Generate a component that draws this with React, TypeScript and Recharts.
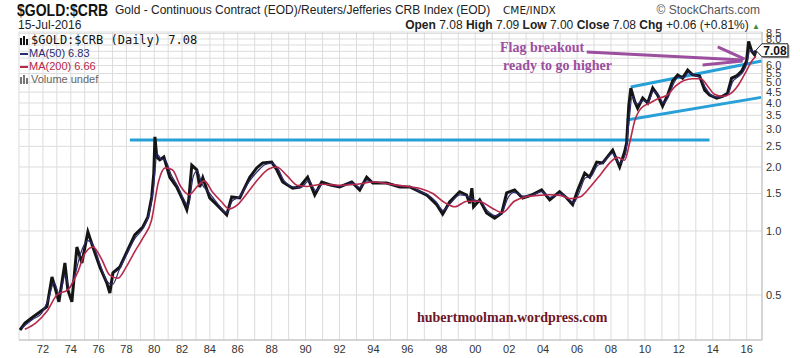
import React from "react";
import {
  LineChart,
  Line,
  XAxis,
  YAxis,
  CartesianGrid,
  ReferenceLine,
  ReferenceDot,
} from "recharts";

// trading records per year in the feed (early CRB history is thinner)
const eraStart = [1970, 1986];
const barsPerYear = [205, 250];

const priceYears = [
  1970.35, 1970.71, 1971.28, 1971.78, 1972.29, 1972.65, 1972.86, 1973.15, 1973.58, 1973.79,
  1974.08, 1974.44, 1974.8, 1975.23, 1975.59, 1976.09, 1976.59, 1976.81, 1977.03, 1977.53,
  1978.03, 1978.6, 1979.18, 1979.54, 1979.82, 1979.97, 1980.05, 1980.18, 1980.4, 1980.69,
  1981.12, 1981.62, 1982.05, 1982.34, 1982.48, 1982.7, 1983.06, 1983.27, 1983.49, 1983.99,
  1984.49, 1985.21, 1985.57, 1986.12, 1986.71, 1987.12, 1987.47, 1988.0, 1988.3, 1988.65,
  1989.24, 1989.65, 1990.12, 1990.54, 1990.95, 1991.42, 1992.01, 1992.72, 1993.19, 1993.6,
  1993.96, 1994.78, 1995.55, 1996.14, 1996.72, 1997.14, 1997.73, 1998.08, 1998.49, 1999.08,
  1999.49, 1999.67, 1999.8, 1999.9, 2000.26, 2000.67, 2001.14, 2001.56, 2001.85, 2002.32,
  2002.79, 2003.32, 2003.91, 2004.39, 2004.97, 2005.39, 2005.74, 2006.04, 2006.45, 2006.74,
  2007.16, 2007.51, 2008.1, 2008.51, 2008.8, 2008.92, 2009.05, 2009.17, 2009.39, 2009.57,
  2009.87, 2010.16, 2010.46, 2010.75, 2011.04, 2011.34, 2011.63, 2011.93, 2012.22, 2012.52,
  2012.81, 2013.22, 2013.52, 2013.81, 2014.23, 2014.58, 2014.87, 2015.11, 2015.4, 2015.7,
  2015.99, 2016.11, 2016.29, 2016.47, 2016.54,
];
const priceValues = [
  0.342, 0.369, 0.394, 0.416, 0.44, 0.608, 0.545, 0.464, 0.707, 0.528,
  0.464, 0.84, 0.707, 0.99, 0.84, 0.677, 0.57, 0.51, 0.635, 0.677,
  0.797, 0.958, 1.044, 1.16, 1.445, 1.87, 2.77, 2.23, 2.16, 2.23,
  1.79, 1.61, 1.4, 1.26, 1.4, 2.04, 1.94, 1.61, 1.78, 1.43,
  1.33, 1.19, 1.445, 1.43, 1.79, 1.98, 2.09, 2.11, 1.94, 1.7,
  1.59, 1.61, 1.79, 1.476, 1.7, 1.65, 1.61, 1.7, 1.56, 1.79,
  1.68, 1.68, 1.61, 1.61, 1.53, 1.476, 1.33, 1.2, 1.37, 1.53,
  1.476, 1.35, 1.59, 1.3, 1.4, 1.215, 1.15, 1.215, 1.51, 1.56,
  1.43, 1.476, 1.56, 1.4, 1.53, 1.43, 1.33, 1.56, 1.87, 1.79,
  2.11, 2.09, 2.4, 2.0, 2.35, 2.59, 3.9, 4.7, 4.08, 3.78,
  4.22, 4.0, 4.7, 4.36, 3.87, 4.36, 5.08, 5.42, 5.24, 5.71,
  5.42, 5.36, 4.6, 4.36, 4.22, 4.3, 4.45, 5.24, 5.36, 5.65,
  6.3, 7.8, 7.03, 6.73, 7.08,
];

const ma50Years = [
  1970.5, 1971.3, 1971.9, 1972.4, 1972.8, 1973.2, 1973.6, 1973.9, 1974.3, 1974.7,
  1975.2, 1975.6, 1976.1, 1976.6, 1977.0, 1977.5, 1978.0, 1978.6, 1979.2, 1979.6,
  1979.95, 1980.2, 1980.5, 1980.8, 1981.2, 1981.7, 1982.1, 1982.45, 1982.8, 1983.1,
  1983.4, 1984.0, 1984.5, 1985.2, 1985.6, 1986.1, 1986.7, 1987.2, 1987.6, 1988.0,
  1988.4, 1988.7, 1989.3, 1989.7, 1990.2, 1990.6, 1991.0, 1991.5, 1992.0, 1992.7,
  1993.2, 1993.6, 1994.0, 1994.8, 1995.6, 1996.2, 1996.7, 1997.2, 1997.7, 1998.1,
  1998.5, 1999.1, 1999.5, 1999.9, 2000.3, 2000.7, 2001.2, 2001.6, 2001.9, 2002.3,
  2002.8, 2003.3, 2003.9, 2004.4, 2005.0, 2005.4, 2005.8, 2006.1, 2006.5, 2006.8,
  2007.2, 2007.5, 2008.1, 2008.5, 2008.85, 2009.05, 2009.25, 2009.5, 2009.9, 2010.2,
  2010.5, 2010.8, 2011.1, 2011.4, 2011.7, 2012.0, 2012.3, 2012.55, 2012.85, 2013.25,
  2013.55, 2013.85, 2014.25, 2014.6, 2014.9, 2015.15, 2015.45, 2015.75, 2016.0, 2016.2,
  2016.4, 2016.54,
];
const ma50Values = [
  0.35, 0.385, 0.41, 0.48, 0.57, 0.5, 0.62, 0.54, 0.62, 0.78,
  0.9, 0.86, 0.7, 0.58, 0.56, 0.66, 0.77, 0.92, 1.03, 1.18,
  1.6, 2.3, 2.18, 2.15, 1.85, 1.62, 1.42, 1.32, 1.8, 1.92,
  1.68, 1.5, 1.36, 1.22, 1.38, 1.45, 1.72, 1.92, 2.05, 2.08,
  1.95, 1.74, 1.61, 1.6, 1.72, 1.55, 1.66, 1.65, 1.62, 1.68,
  1.6, 1.72, 1.7, 1.67, 1.62, 1.61, 1.54, 1.48, 1.37, 1.25,
  1.34, 1.48, 1.46, 1.4, 1.38, 1.25, 1.18, 1.23, 1.42, 1.52,
  1.46, 1.47, 1.53, 1.44, 1.5, 1.44, 1.36, 1.5, 1.78, 1.8,
  2.03, 2.08, 2.32, 2.08, 2.3, 3.2, 4.3, 3.95, 4.1, 4.05,
  4.55, 4.35, 4.0, 4.3, 4.95, 5.3, 5.25, 5.55, 5.42, 5.3,
  4.75, 4.4, 4.25, 4.28, 4.4, 5.0, 5.28, 5.55, 6.1, 7.1,
  6.95, 6.83,
];

const ma200Years = [
  1970.7, 1971.5, 1972.3, 1973.0, 1973.8, 1974.5, 1975.0, 1975.6, 1976.2, 1976.8,
  1977.4, 1978.0, 1978.6, 1979.2, 1979.8, 1980.3, 1980.8, 1981.3, 1981.9, 1982.5,
  1983.1, 1983.6, 1984.2, 1984.8, 1985.4, 1986.0, 1986.6, 1987.2, 1987.8, 1988.3,
  1988.9, 1989.5, 1990.1, 1991.0, 1992.0, 1993.0, 1994.0, 1995.0, 1996.0, 1996.8,
  1997.5, 1998.2, 1998.8, 1999.5, 2000.2, 2001.0, 2001.6, 2002.3, 2003.0, 2003.7,
  2004.4, 2005.0, 2005.6, 2006.2, 2006.8, 2007.4, 2008.0, 2008.4, 2008.8, 2009.1,
  2009.4, 2009.8, 2010.3, 2010.8, 2011.3, 2011.8, 2012.3, 2012.8, 2013.3, 2013.7,
  2014.1, 2014.6, 2015.0, 2015.5, 2016.0, 2016.3, 2016.54,
];
const ma200Values = [
  0.345, 0.37, 0.42, 0.5, 0.53, 0.64, 0.78, 0.84, 0.74, 0.62,
  0.6, 0.68, 0.8, 0.93, 1.12, 1.7, 1.98, 1.94, 1.62, 1.48,
  1.62, 1.72, 1.52, 1.38, 1.27, 1.33, 1.52, 1.75, 1.95, 2.0,
  1.82, 1.64, 1.62, 1.66, 1.64, 1.66, 1.7, 1.66, 1.62, 1.58,
  1.5, 1.36, 1.3, 1.38, 1.38, 1.28, 1.22, 1.38, 1.45, 1.47,
  1.48, 1.47, 1.42, 1.45, 1.62, 1.85, 2.12, 2.22, 2.15, 2.6,
  3.3, 3.8, 4.0, 4.2, 4.35, 4.8, 5.1, 5.2, 5.2, 4.8,
  4.4, 4.3, 4.4, 4.85, 5.7, 6.3, 6.66,
];

const yTicks = [0.5, 1.0, 1.5, 2.0, 2.5, 3.0, 3.5, 4.0, 4.5, 5.0, 5.5, 6.0, 6.5, 7.0, 7.5, 8.0, 8.5];
// labels hidden behind the last-close tag
const yTicksUnderTag = [6.5, 7.0, 7.5];
const tickYears = Array.from({ length: 46 }, (_, i) => 1971 + i);

// hand-drawn annotations: [startYear, startValue, endYear, endValue]
const resistanceLine = [1978.25, 2.68, 2013.81, 2.68];
const channelTop = [2009.16, 4.76, 2016.88, 6.3];
const channelBottom = [2008.92, 3.33, 2016.85, 4.25];
const arrowShaft = [2006.57, 6.95, 2015.76, 6.37];
const arrowHeadUpper = [2014.29, 7.34, 2015.88, 6.44];
const arrowHeadLower = [2013.4, 6.04, 2015.76, 6.3];

const lastClose = 7.08;

function barPos(year: number) {
  // cumulative record count, origin at 1986
  if (year < eraStart[1]) return (year - eraStart[1]) * barsPerYear[0];
  return (year - eraStart[1]) * barsPerYear[1];
}
function posYear(p: number) {
  return p < 0 ? eraStart[1] + p / barsPerYear[0] : eraStart[1] + p / barsPerYear[1];
}

const toRows = (years: number[], values: number[]) =>
  years.map((y, i) => ({ pos: barPos(y), value: values[i] }));

const priceRows = toRows(priceYears, priceValues);
const ma50Rows = toRows(ma50Years, ma50Values);
const ma200Rows = toRows(ma200Years, ma200Values);

const segment = (s: number[]) => [
  { x: barPos(s[0]), y: s[1] },
  { x: barPos(s[2]), y: s[3] },
];

const SANS = "Arial, 'Liberation Sans', sans-serif";
const SERIF = "'Liberation Serif', 'DejaVu Serif', serif";
const BLUE = "#27a0d8";
const PURPLE = "#9c4e9f";

function CloseTag(props: any) {
  const { cx, cy } = props;
  if (cx == null || cy == null) return null;
  const pts = [
    [cx, cy],
    [cx + 6, cy - 6.5],
    [cx + 32, cy - 6.5],
    [cx + 32, cy + 6.5],
    [cx + 6, cy + 6.5],
  ]
    .map((p) => p.join(","))
    .join(" ");
  return (
    <g>
      <polygon points={pts} transform="translate(1.5,1.5)" fill="#999" />
      <polygon points={pts} fill="#fff" stroke="#222" strokeWidth={1} />
      <text x={cx + 19} y={cy + 4.5} textAnchor="middle" fontSize={12} fontWeight="bold" fontFamily={SANS} fill="#111">
        {lastClose.toFixed(2)}
      </text>
    </g>
  );
}

function BarIcon({ color }: { color: string }) {
  return (
    <svg width={9} height={9} style={{ marginRight: 2, verticalAlign: "-1px" }}>
      <rect x={0} y={2} width={2} height={7} fill={color} />
      <rect x={3} y={0} width={2} height={9} fill={color} />
      <rect x={6} y={3} width={2} height={6} fill={color} />
    </svg>
  );
}

export default function App() {
  const xMin = barPos(1970.28);
  const xMax = barPos(2016.9);

  return (
    <div style={{ position: "absolute", left: 0, top: 0, width: 800, height: 358, background: "#fff", overflow: "hidden" }}>
      <div style={{ position: "absolute", left: 0, top: 0 }}>
        <LineChart width={800} height={358} margin={{ top: 32, right: 0, bottom: 0, left: 19 }}>
          <CartesianGrid stroke="#dcdcdc" strokeWidth={1} />
          <XAxis
            dataKey="pos"
            type="number"
            domain={[xMin, xMax]}
            allowDataOverflow
            ticks={tickYears.map(barPos)}
            interval={0}
            height={18}
            tickLine={false}
            tickSize={3}
            axisLine={{ stroke: "#bdbdbd" }}
            tick={{ fill: "#333", fontSize: 11, fontFamily: SANS }}
            tickFormatter={(v: number) => {
              const y = Math.round(posYear(v));
              return y % 2 === 0 ? String(y % 100).padStart(2, "0") : "";
            }}
          />
          <XAxis xAxisId="frame" orientation="top" type="number" domain={[0, 1]} height={0} tick={false} tickLine={false} axisLine={{ stroke: "#bdbdbd" }} />
          <YAxis
            orientation="right"
            scale="log"
            domain={[0.307, 8.63]}
            allowDataOverflow
            ticks={yTicks}
            interval={0}
            width={38}
            tickLine={false}
            tickSize={2}
            axisLine={{ stroke: "#bdbdbd" }}
            tick={{ fill: "#333", fontSize: 11, fontFamily: SANS }}
            tickFormatter={(v: number) => (yTicksUnderTag.includes(v) ? "" : v.toFixed(1))}
          />
          <YAxis yAxisId="frame" orientation="left" type="number" domain={[0, 1]} width={0} tick={false} tickLine={false} axisLine={{ stroke: "#bdbdbd" }} />

          <ReferenceLine segment={segment(resistanceLine)} stroke={BLUE} strokeWidth={3} ifOverflow="visible" />
          <ReferenceLine segment={segment(channelTop)} stroke={BLUE} strokeWidth={3} ifOverflow="visible" />
          <ReferenceLine segment={segment(channelBottom)} stroke={BLUE} strokeWidth={3} ifOverflow="visible" />

          <Line data={priceRows} dataKey="value" stroke="#151515" strokeWidth={3} dot={false} isAnimationActive={false} />
          <Line data={ma50Rows} dataKey="value" stroke="#2b2b6e" strokeWidth={1.2} dot={false} type="monotone" isAnimationActive={false} />
          <Line data={ma200Rows} dataKey="value" stroke="#b8284a" strokeWidth={1.6} dot={false} type="monotone" isAnimationActive={false} />

          <ReferenceLine segment={segment(arrowShaft)} stroke={PURPLE} strokeWidth={3} ifOverflow="visible" />
          <ReferenceLine segment={segment(arrowHeadUpper)} stroke={PURPLE} strokeWidth={3} ifOverflow="visible" />
          <ReferenceLine segment={segment(arrowHeadLower)} stroke={PURPLE} strokeWidth={3} ifOverflow="visible" />

          <ReferenceDot x={barPos(priceYears[priceYears.length - 1])} y={lastClose} ifOverflow="visible" shape={CloseTag} />
        </LineChart>
      </div>

      {/* header */}
      <div
        style={{
          position: "absolute",
          left: 17,
          top: 1,
          fontFamily: SANS,
          fontWeight: "bold",
          fontSize: 16.5,
          color: "#111",
          transform: "scaleX(0.85)",
          transformOrigin: "left center",
          whiteSpace: "nowrap",
        }}
      >
        $GOLD:$CRB
      </div>
      <div style={{ position: "absolute", left: 115, top: 3, fontFamily: SANS, fontSize: 12, color: "#222", whiteSpace: "nowrap" }}>
        Gold - Continuous Contract (EOD)/Reuters/Jefferies CRB Index (EOD)
      </div>
      <div style={{ position: "absolute", left: 503, top: 4, fontFamily: "'DejaVu Sans', sans-serif", fontSize: 10.5, color: "#222" }}>
        CME/INDX
      </div>
      <div style={{ position: "absolute", right: 40, top: 3, fontFamily: SANS, fontSize: 12, color: "#555" }}>
        © StockCharts.com
      </div>
      <div style={{ position: "absolute", left: 18, top: 18, fontFamily: SANS, fontSize: 12, color: "#222" }}>
        15-Jul-2016
      </div>
      <div style={{ position: "absolute", right: 40, top: 18, fontFamily: SANS, fontSize: 12, color: "#222", whiteSpace: "nowrap" }}>
        <b>Open</b> 7.08 <b>High</b> 7.09 <b>Low</b> 7.00 <b>Close</b> 7.08 <b>Chg</b> +0.06 (+0.81%){" "}
        <span style={{ color: "#3b8a3b", fontSize: 8 }}>▲</span>
      </div>

      {/* legend */}
      <div style={{ position: "absolute", left: 20, top: 34, lineHeight: "13px", fontSize: 11, fontFamily: SANS }}>
        <div style={{ fontFamily: "'DejaVu Sans Mono', monospace", fontSize: 12, color: "#111" }}>
          <BarIcon color="#111" />$GOLD:$CRB (Daily) 7.08
        </div>
        <div style={{ color: "#2b2b6e" }}>
          <span style={{ display: "inline-block", width: 8, height: 2, background: "#2b2b6e", verticalAlign: "middle", marginRight: 1 }} />
          MA(50) 6.83
        </div>
        <div style={{ color: "#b8284a" }}>
          <span style={{ display: "inline-block", width: 8, height: 2, background: "#b8284a", verticalAlign: "middle", marginRight: 1 }} />
          MA(200) 6.66
        </div>
        <div style={{ color: "#666" }}>
          <BarIcon color="#777" />Volume undef
        </div>
      </div>

      {/* annotations */}
      <div style={{ position: "absolute", left: 500, top: 39, fontFamily: SERIF, fontWeight: "bold", fontSize: 14, color: PURPLE, lineHeight: "18px", whiteSpace: "nowrap" }}>
        <div>Flag breakout</div>
        <div style={{ marginLeft: 3 }}>ready to go higher</div>
      </div>
      <div style={{ position: "absolute", left: 417, top: 310, fontFamily: SERIF, fontWeight: "bold", fontSize: 14, color: "#6e1628", whiteSpace: "nowrap" }}>
        hubertmoolman.wordpress.com
      </div>
    </div>
  );
}
